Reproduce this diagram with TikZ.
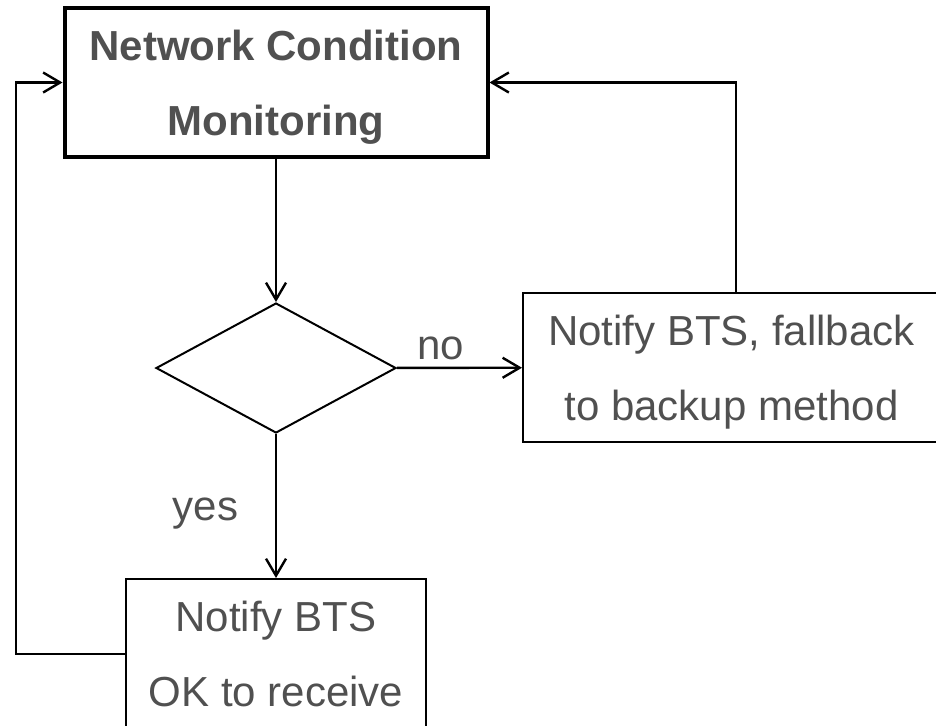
\documentclass[tikz,border=0pt]{standalone}
\usepackage{fontspec}
\setmainfont{Liberation Sans}
\usepackage{tikz}
\usetikzlibrary{shapes.geometric,arrows.meta}
\definecolor{txtgray}{HTML}{505050}
\newcommand{\topline}{\rule{0pt}{20pt}}

\begin{document}
\begin{tikzpicture}[x=0.5pt,y=-0.5pt,
  procbox/.style={rectangle,draw,line width=1pt,align=center,text=txtgray,
    font=\fontsize{21}{37.5}\selectfont,inner sep=0pt},
  link/.style={line width=1.2pt,-{Straight Barb[length=8.5pt,width=10pt]}},
  lbl/.style={text=txtgray,font=\fontsize{21}{25}\selectfont}]
\useasboundingbox (0,0) rectangle (936,725);
\clip (0,0) rectangle (936,725);

\node[procbox,line width=2pt,font=\fontsize{21}{37.5}\selectfont\bfseries,
  minimum width=211.5pt,minimum height=74.5pt] (monitor) at (276,82.5)
  {\topline Network Condition\\Monitoring};
\node[diamond,draw,line width=1pt,inner sep=0pt,
  minimum width=120pt,minimum height=65pt] (check) at (276,368) {};
\node[procbox,minimum width=208.5pt,minimum height=74.5pt] (fallback) at (731.5,367.5)
  {\topline Notify BTS, fallback\\to backup method};
\node[procbox,minimum width=150pt,minimum height=75pt] (okbox) at (276,654)
  {Notify BTS\\OK to receive};
\coordinate (loop) at (16,653);

\draw[link] (monitor) -- (check);
\draw[link] (check) -- node[lbl,above,pos=0.35] {no} (fallback);
\draw[link] (check) -- node[lbl,left=15pt,pos=0.55] {yes} (okbox);
\draw[link] ([xshift=2.25pt]fallback.north) |- (monitor.east);
\draw[link] (okbox.west) -- (okbox.west -| loop) |- (monitor.west);

\end{tikzpicture}
\end{document}
